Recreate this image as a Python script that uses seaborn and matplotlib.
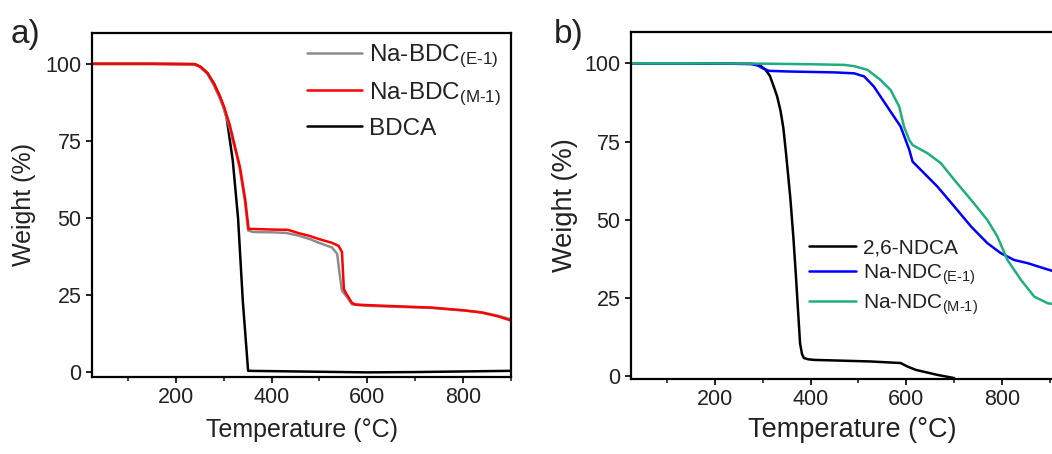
import numpy as np
import pandas as pd
import matplotlib
matplotlib.use("Agg")
import matplotlib.pyplot as plt
import seaborn as sns
from matplotlib.ticker import MultipleLocator

# ---------------- data ----------------
# Panel a
bdc_e1_T = [25, 150, 237, 250, 265, 278, 290, 299, 312, 319, 326, 333, 344, 351, 361, 400, 430, 457, 480, 499, 526, 537, 542, 547, 558, 568, 596, 650, 734, 803, 838, 872, 900]
bdc_e1_W = [100, 100, 99.9, 99, 97, 93.5, 89.5, 86, 79.5, 75, 71, 66.5, 55.7, 46, 45.5, 45.4, 45.2, 44.3, 43.2, 42, 40.5, 38.4, 32, 26.5, 24.3, 22, 21.6, 21.3, 20.9, 20, 19.5, 18.4, 17.2]

bdc_m1_T = [25, 150, 240, 252, 266, 280, 292, 301, 313, 320, 327, 334, 345, 352, 360, 400, 434, 455, 480, 499, 526, 540, 547, 549, 551, 556, 568, 575, 600, 650, 734, 803, 838, 872, 900]
bdc_m1_W = [100, 100, 99.9, 99, 97, 93.5, 89.5, 86, 80, 75.5, 71, 66.5, 56, 46.5, 46.5, 46.3, 46.2, 45.2, 44.2, 43.2, 42, 41, 39, 33, 27, 25.5, 22.5, 22, 21.8, 21.5, 21, 20.1, 19.4, 18.2, 16.8]

bdca_T = [25, 150, 240, 252, 266, 280, 292, 300, 306, 319, 330, 340, 351, 400, 500, 600, 700, 800, 900]
bdca_W = [100, 100, 99.9, 99, 97, 93.5, 89.5, 86, 82.7, 68.6, 50, 23, 0.5, 0.4, 0.2, 0.0, 0.1, 0.3, 0.5]

# Panel b
ndca_T = [25, 150, 281, 295, 306, 315, 323, 330, 337, 343, 348, 353, 358, 364, 369, 374, 378, 382, 386, 395, 407, 525, 588, 602, 620, 665, 700]
ndca_W = [100, 100, 99.8, 99.3, 97.9, 96, 92.6, 89.5, 85, 79.5, 72.3, 64.5, 56.4, 44.5, 33, 20.5, 10.6, 7.2, 5.9, 5.5, 5.3, 4.8, 4.3, 3.2, 2.1, 0.5, -0.5]

ndc_e1_T = [25, 150, 275, 290, 300, 313, 351, 450, 491, 512, 532, 560, 588, 606, 613, 630, 665, 700, 735, 769, 797, 825, 853, 886, 920]
ndc_e1_W = [100, 100, 99.8, 99.3, 98.4, 97.6, 97.4, 97.1, 96.8, 95.8, 92.6, 86.2, 79.8, 72.4, 68.6, 66, 60.6, 54.3, 47.9, 42.6, 39.4, 37.2, 36.2, 34.6, 33]

ndc_m1_T = [25, 150, 300, 400, 470, 491, 519, 546, 567, 585, 595, 606, 613, 644, 672, 700, 735, 769, 790, 811, 839, 867, 895, 920]
ndc_m1_W = [100, 100, 99.9, 99.7, 99.5, 99.1, 97.9, 94.7, 91.5, 86.2, 79.8, 75.5, 73.9, 71.3, 68.1, 62.8, 56.4, 50, 44.7, 37.2, 30.9, 25.5, 23.4, 22.8]

x_ticks = [200, 400, 600, 800]
y_ticks = [0, 25, 50, 75, 100]

labels_a = [r"Na-BDC$_{\text{(E-1)}}$", r"Na-BDC$_{\text{(M-1)}}$", "BDCA"]
labels_b = ["2,6-NDCA", r"Na-NDC$_{\text{(E-1)}}$", r"Na-NDC$_{\text{(M-1)}}$"]

# ---------------- style ----------------
sns.set_theme(style="ticks")
plt.rcParams["font.family"] = ["Liberation Sans", "DejaVu Sans"]
plt.rcParams["mathtext.fontset"] = "custom"
plt.rcParams["mathtext.rm"] = "Liberation Sans"
plt.rcParams["mathtext.it"] = "Liberation Sans"
plt.rcParams["axes.linewidth"] = 1.6
plt.rcParams["xtick.major.width"] = 1.4
plt.rcParams["ytick.major.width"] = 1.4
plt.rcParams["xtick.minor.width"] = 1.2

fig = plt.figure(figsize=(10.52, 4.54), dpi=100)

W_PX, H_PX = 1052, 454
def ax_rect(l, t, r, b):
    return [l / W_PX, 1 - b / H_PX, (r - l) / W_PX, (b - t) / H_PX]

ax_a = fig.add_axes(ax_rect(92, 33, 511, 377))
ax_b = fig.add_axes(ax_rect(631, 32, 1074, 379))

def make_df(Ts, Ws, names):
    rows = []
    for T, Wv, n in zip(Ts, Ws, names):
        rows.append(pd.DataFrame({"T": T, "W": Wv, "s": n}))
    return pd.concat(rows, ignore_index=True)

# drawing order: black first, then grey, then red on top
df_a = make_df([bdca_T, bdc_e1_T, bdc_m1_T], [bdca_W, bdc_e1_W, bdc_m1_W],
               [labels_a[2], labels_a[0], labels_a[1]])
df_b = make_df([ndca_T, ndc_e1_T, ndc_m1_T], [ndca_W, ndc_e1_W, ndc_m1_W], labels_b)

pal_a = {labels_a[0]: "#8c8c8c", labels_a[1]: "#ff0000", labels_a[2]: "#000000"}
pal_b = {labels_b[0]: "#000000", labels_b[1]: "#0000ff", labels_b[2]: "#1fae80"}

sns.lineplot(data=df_a, x="T", y="W", hue="s", palette=pal_a,
             hue_order=[labels_a[2], labels_a[0], labels_a[1]],
             sort=False, estimator=None, lw=1.8, ax=ax_a)
sns.lineplot(data=df_b, x="T", y="W", hue="s", palette=pal_b, hue_order=labels_b,
             sort=False, estimator=None, lw=1.8, ax=ax_b)

for ax in (ax_a, ax_b):
    ax.set_ylim(-1.5, 110)
    ax.set_xticks(x_ticks)
    ax.set_yticks(y_ticks)
    ax.xaxis.set_minor_locator(MultipleLocator(100))
    ax.tick_params(axis="both", which="major", direction="out", length=4)
    ax.tick_params(axis="x", which="minor", direction="out", length=3)
    for sp in ax.spines.values():
        sp.set_visible(True)
        sp.set_color("black")

ax_a.set_xlim(25, 900)
ax_b.set_xlim(25, 950)
ax_b.set_ylim(-0.8, 110)

ax_a.tick_params(labelsize=15.5, colors="#222222", labelcolor="#222222")
ax_b.tick_params(labelsize=15.5, colors="#222222", labelcolor="#222222")
ax_a.set_xlabel("Temperature (\u00b0C)", fontsize=18, labelpad=7, color="#222222")
ax_a.set_ylabel("Weight (%)", fontsize=18, labelpad=7, color="#222222")
ax_b.set_xlabel("Temperature (\u00b0C)", fontsize=19.5, labelpad=5, color="#222222")
ax_b.set_ylabel("Weight (%)", fontsize=19.5, labelpad=5, color="#222222")

# legends (keep original label order)
h_a, l_a = ax_a.get_legend_handles_labels()
order_a = [l_a.index(l) for l in labels_a]
leg_a = ax_a.legend([h_a[i] for i in order_a], [l_a[i] for i in order_a],
                    loc="upper right", bbox_to_anchor=(1.0, 1.0), frameon=False,
                    fontsize=17.5, handlelength=2.25, handletextpad=0.3,
                    labelspacing=0.42, borderaxespad=0.0)
leg_b = ax_b.legend(loc="upper left", bbox_to_anchor=(0.384, 0.43), frameon=False,
                    fontsize=15, handlelength=2.25, handletextpad=0.3,
                    labelspacing=0.25, borderaxespad=0.0)
for leg in (leg_a, leg_b):
    for t in leg.get_texts():
        t.set_color("#222222")
    for l in leg.get_lines():
        l.set_linewidth(1.8)

fig.text(11 / W_PX, 1 - 43 / H_PX, "a)", fontsize=24, color="#222222")
fig.text(554 / W_PX, 1 - 43 / H_PX, "b)", fontsize=24, color="#222222")

fig.savefig("out.png", dpi=100)
